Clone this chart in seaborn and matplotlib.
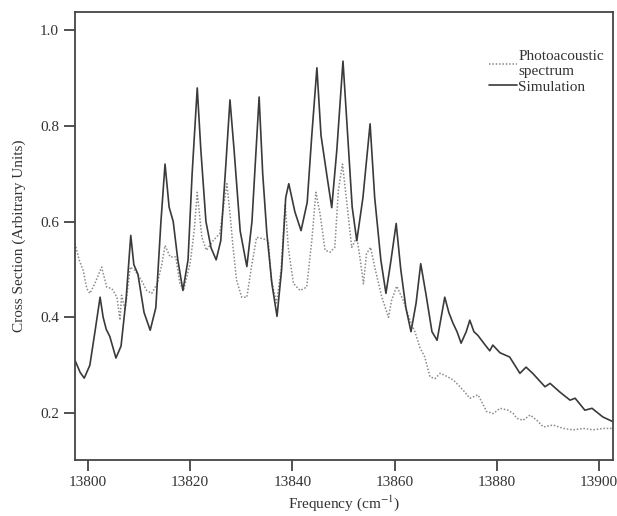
import matplotlib
matplotlib.use("Agg")
import matplotlib.pyplot as plt
import seaborn as sns
import pandas as pd

sim_freq = [13797.5, 13798.5, 13799.3, 13800.4, 13801.4, 13802.4, 13803.0, 13803.6, 13804.3, 13805.5,
            13806.5, 13807.5, 13808.4, 13809.0, 13809.8, 13811.0, 13812.2, 13813.3, 13814.3, 13815.1,
            13815.9, 13816.7, 13817.6, 13818.6, 13819.6, 13820.4, 13821.4, 13822.1, 13823.1, 13824.1,
            13825.1, 13826.0, 13827.0, 13827.8, 13828.6, 13829.8, 13831.1, 13832.1, 13833.5, 13834.2,
            13835.0, 13836.0, 13837.0, 13837.9, 13838.7, 13839.3, 13840.5, 13841.7, 13842.9, 13843.8,
            13844.8, 13845.6, 13846.7, 13847.7, 13848.7, 13849.9, 13850.7, 13851.7, 13852.6, 13853.8,
            13855.2, 13856.1, 13857.3, 13858.3, 13859.3, 13860.3, 13861.2, 13862.2, 13863.2, 13864.2,
            13865.1, 13866.1, 13867.3, 13868.3, 13869.1, 13869.8, 13870.6, 13871.4, 13872.2, 13873.0,
            13874.0, 13874.7, 13875.5, 13876.3, 13877.5, 13878.6, 13879.2, 13880.6, 13882.5, 13884.5,
            13885.7, 13887.0, 13889.4, 13890.4, 13892.3, 13894.3, 13895.3, 13897.2, 13898.6, 13900.7,
            13902.7]
sim_val = [0.31, 0.285, 0.273, 0.30, 0.37, 0.442, 0.40, 0.375, 0.36, 0.315,
           0.34, 0.44, 0.571, 0.51, 0.49, 0.41, 0.373, 0.42, 0.60, 0.72,
           0.63, 0.60, 0.52, 0.456, 0.52, 0.70, 0.879, 0.75, 0.60, 0.545,
           0.52, 0.56, 0.72, 0.854, 0.75, 0.58, 0.506, 0.60, 0.86, 0.70,
           0.577, 0.47, 0.402, 0.50, 0.65, 0.679, 0.62, 0.581, 0.64, 0.78,
           0.921, 0.78, 0.70, 0.629, 0.75, 0.935, 0.80, 0.63, 0.56, 0.65,
           0.804, 0.65, 0.52, 0.45, 0.52, 0.596, 0.50, 0.42, 0.37, 0.43,
           0.512, 0.45, 0.37, 0.352, 0.40, 0.442, 0.41, 0.388, 0.37, 0.346,
           0.37, 0.394, 0.37, 0.362, 0.345, 0.33, 0.342, 0.326, 0.317, 0.283,
           0.296, 0.283, 0.255, 0.262, 0.244, 0.227, 0.231, 0.206, 0.21, 0.192,
           0.182]

pa_freq = [13797.5, 13798.3, 13799.1, 13799.8, 13800.4, 13801.4, 13802.7, 13803.7, 13804.7, 13805.7,
           13806.3, 13806.6, 13807.3, 13808.3, 13809.2, 13810.5, 13811.5, 13812.5, 13813.6, 13814.5,
           13815.1, 13816.1, 13817.2, 13818.0, 13818.7, 13820.0, 13820.8, 13821.4, 13822.3, 13823.2,
           13824.5, 13825.8, 13826.8, 13827.2, 13827.8, 13828.4, 13829.1, 13830.1, 13831.1, 13832.0,
           13833.0, 13834.3, 13835.3, 13835.9, 13836.9, 13837.8, 13838.6, 13839.2, 13840.2, 13841.5,
           13842.8, 13843.8, 13844.6, 13845.4, 13846.4, 13847.4, 13848.3, 13849.0, 13849.8, 13850.6,
           13851.6, 13852.6, 13853.2, 13853.9, 13854.5, 13855.3, 13856.1, 13857.5, 13858.8, 13859.4,
           13860.4, 13861.7, 13863.0, 13864.0, 13864.9, 13865.9, 13866.9, 13867.9, 13868.9, 13869.8,
           13871.5, 13873.4, 13874.7, 13876.3, 13877.0, 13878.0, 13879.3, 13880.6, 13882.2, 13883.2,
           13883.9, 13885.1, 13886.5, 13887.8, 13889.1, 13891.0, 13893.0, 13894.9, 13896.9, 13898.8,
           13900.8, 13902.4]
pa_val = [0.554, 0.52, 0.498, 0.46, 0.45, 0.471, 0.505, 0.463, 0.46, 0.442,
          0.394, 0.446, 0.415, 0.505, 0.498, 0.477, 0.456, 0.45, 0.471, 0.512,
          0.55, 0.526, 0.526, 0.471, 0.456, 0.512, 0.581, 0.661, 0.567, 0.54,
          0.56, 0.575, 0.65, 0.679, 0.617, 0.546, 0.477, 0.442, 0.442, 0.505,
          0.567, 0.564, 0.56, 0.477, 0.43, 0.50, 0.637, 0.546, 0.471, 0.456,
          0.463, 0.56, 0.661, 0.617, 0.54, 0.536, 0.546, 0.665, 0.72, 0.644,
          0.546, 0.567, 0.526, 0.47, 0.533, 0.546, 0.505, 0.442, 0.40, 0.435,
          0.465, 0.435, 0.394, 0.369, 0.338, 0.317, 0.276, 0.272, 0.283, 0.279,
          0.269, 0.248, 0.231, 0.238, 0.224, 0.203, 0.199, 0.21, 0.206, 0.199,
          0.189, 0.185, 0.196, 0.185, 0.171, 0.175, 0.168, 0.165, 0.168, 0.165,
          0.168, 0.168]

x_ticks = [13800, 13820, 13840, 13860, 13880, 13900]
y_ticks = [0.2, 0.4, 0.6, 0.8, 1.0]

sns.set_style("ticks")
plt.rcParams['font.family'] = ['Liberation Serif', 'DejaVu Serif']
plt.rcParams['mathtext.fontset'] = 'stix'

fig = plt.figure(figsize=(6.17, 5.16), dpi=100)
ax = fig.add_axes([0.1216, 0.1085, 0.8719, 0.8682])

df_pa = pd.DataFrame({"freq": pa_freq, "val": pa_val})
df_sim = pd.DataFrame({"freq": sim_freq, "val": sim_val})

sns.lineplot(data=df_pa, x="freq", y="val", ax=ax, color="#8a8a8a", lw=1.1,
             linestyle=(0, (1, 1.2)), label="Photoacoustic\nspectrum")
sns.lineplot(data=df_sim, x="freq", y="val", ax=ax, color="#3a3a3a", lw=1.2,
             label="Simulation")

ax.set_xlim(13797.5, 13902.7)
ax.set_ylim(0.102, 1.0375)
ax.set_xticks(x_ticks)
ax.set_yticks(y_ticks)
ax.set_xticklabels([str(t) for t in x_ticks])
ax.set_yticklabels([f"{t:.1f}" for t in y_ticks])
ax.tick_params(direction="out", length=8, width=1.2, labelsize=11, colors="#333333")
for s in ax.spines.values():
    s.set_linewidth(1.3)
    s.set_color("#444444")

ax.set_xlabel("Frequency (cm$^{-1}$)", fontsize=11, labelpad=3, color="#333333")
ax.set_ylabel("Cross Section (Arbitrary Units)", fontsize=11, labelpad=10, color="#333333")

leg = ax.legend(loc="upper right", bbox_to_anchor=(1.0, 0.935), frameon=False,
                fontsize=11, handlelength=1.8, handletextpad=0.1, labelspacing=0.1,
                borderaxespad=0.2)
for t in leg.get_texts():
    t.set_color("#333333")

fig.savefig("out.png", dpi=100)
